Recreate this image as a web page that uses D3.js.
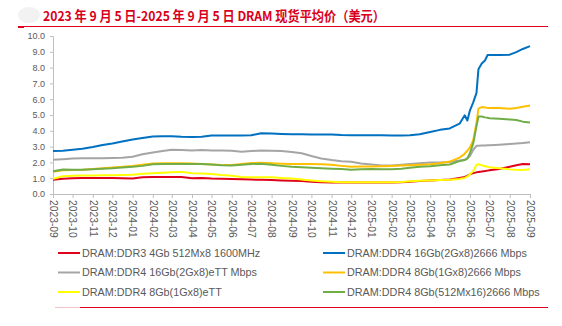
<!DOCTYPE html>
<html>
<head>
<meta charset="utf-8">
<script src="https://cdn.jsdelivr.net/npm/d3@7"></script>
<style>
    body { margin: 0; background: #fff; }
    svg { display: block; font-family: "Liberation Sans", Arial, sans-serif; }
</style>
</head>
<body>
<div id="chart"></div>
<script>
var dates = [
    '2023-09-05','2023-09-20','2023-10-05','2023-10-20','2023-11-05','2023-11-20','2023-12-05','2023-12-20',
    '2024-01-05','2024-01-20','2024-02-05','2024-02-20','2024-03-05','2024-03-20','2024-04-05','2024-04-20',
    '2024-05-05','2024-05-20','2024-06-05','2024-06-20','2024-07-05','2024-07-20','2024-08-05','2024-08-20',
    '2024-09-05','2024-09-20','2024-10-05','2024-10-20','2024-11-05','2024-11-20','2024-12-05','2024-12-20',
    '2025-01-05','2025-01-20','2025-02-05','2025-02-20','2025-03-05','2025-03-20','2025-04-05','2025-04-20',
    '2025-05-05','2025-05-20','2025-05-28','2025-06-01','2025-06-05','2025-06-10','2025-06-15','2025-06-18',
    '2025-06-23','2025-06-28','2025-07-02','2025-07-05','2025-07-20','2025-08-05','2025-08-15','2025-08-25',
    '2025-09-05'
];

var ddr3_4gb = [
    0.90,0.96,1.00,1.02,1.02,1.02,1.02,1.00,0.98,1.06,1.08,1.08,1.08,1.07,1.00,1.02,
    0.98,0.96,0.95,0.93,0.91,0.90,0.88,0.86,0.84,0.82,0.78,0.74,0.73,0.72,0.72,0.72,
    0.72,0.72,0.73,0.75,0.78,0.82,0.85,0.88,0.92,1.02,1.08,1.15,1.25,1.32,1.37,1.40,
    1.42,1.45,1.48,1.50,1.58,1.72,1.82,1.90,1.88
];
var ddr4_16gb_ett = [
    2.16,2.20,2.24,2.27,2.27,2.27,2.28,2.30,2.36,2.52,2.62,2.72,2.80,2.78,2.76,2.78,
    2.76,2.75,2.73,2.67,2.72,2.75,2.74,2.72,2.66,2.58,2.40,2.25,2.15,2.08,2.04,1.93,
    1.86,1.80,1.80,1.85,1.90,1.95,2.00,2.00,2.02,2.12,2.17,2.25,2.40,2.80,3.05,3.06,
    3.07,3.07,3.08,3.08,3.12,3.17,3.20,3.23,3.28
];
var ddr4_8gb_ett = [
    0.97,1.12,1.16,1.17,1.17,1.18,1.18,1.20,1.22,1.28,1.32,1.35,1.38,1.40,1.32,1.30,
    1.26,1.20,1.16,1.08,1.06,1.06,1.06,1.02,0.98,0.92,0.86,0.80,0.77,0.74,0.74,0.74,
    0.74,0.74,0.74,0.76,0.80,0.84,0.86,0.88,0.90,0.95,1.02,1.10,1.25,1.45,1.85,1.88,
    1.82,1.76,1.72,1.70,1.63,1.56,1.53,1.52,1.57
];
var ddr4_16gb_2666 = [
    2.72,2.74,2.80,2.86,2.97,3.10,3.20,3.32,3.45,3.55,3.64,3.66,3.66,3.62,3.60,3.62,
    3.70,3.70,3.70,3.70,3.72,3.85,3.83,3.80,3.78,3.78,3.77,3.77,3.76,3.73,3.72,3.72,
    3.72,3.72,3.71,3.71,3.72,3.78,3.92,4.06,4.15,4.45,4.98,4.65,5.30,5.80,6.40,7.90,
    8.26,8.45,8.80,8.80,8.80,8.82,8.98,9.18,9.36
];
var ddr4_8gb_2666 = [
    1.40,1.50,1.52,1.53,1.58,1.63,1.68,1.72,1.78,1.85,1.93,1.95,1.95,1.95,1.93,1.90,
    1.87,1.84,1.84,1.90,1.96,1.97,1.95,1.92,1.90,1.90,1.90,1.88,1.85,1.78,1.72,1.74,
    1.74,1.76,1.78,1.80,1.82,1.85,1.88,1.95,2.05,2.30,2.55,2.75,2.95,3.40,4.50,5.40,
    5.50,5.48,5.45,5.45,5.45,5.40,5.45,5.52,5.60
];
var ddr4_8gb_512 = [
    1.44,1.55,1.53,1.53,1.57,1.60,1.63,1.68,1.72,1.78,1.88,1.90,1.90,1.90,1.90,1.90,
    1.86,1.82,1.80,1.85,1.90,1.92,1.85,1.78,1.72,1.70,1.66,1.63,1.60,1.58,1.53,1.56,
    1.58,1.57,1.57,1.60,1.66,1.72,1.76,1.82,1.87,2.08,2.15,2.25,2.60,3.20,4.30,4.90,
    4.90,4.85,4.82,4.80,4.77,4.72,4.68,4.58,4.53
];

var seriesNames = [
    'DRAM:DDR3 4Gb 512Mx8 1600MHz',
    'DRAM:DDR4 16Gb(2Gx8)eTT Mbps',
    'DRAM:DDR4 8Gb(1Gx8)eTT',
    'DRAM:DDR4 16Gb(2Gx8)2666 Mbps',
    'DRAM:DDR4 8Gb(1Gx8)2666 Mbps',
    'DRAM:DDR4 8Gb(512Mx16)2666 Mbps'
];
var seriesValues = [ddr3_4gb, ddr4_16gb_ett, ddr4_8gb_ett, ddr4_16gb_2666, ddr4_8gb_2666, ddr4_8gb_512];
var seriesColors = ['#e0001b', '#a5a5a5', '#ffff00', '#0070c0', '#ffc000', '#70ad47'];
var yTicks = [0, 1, 2, 3, 4, 5, 6, 7, 8, 9, 10];
var titleText = '2023 年 9 月 5 日-2025 年 9 月 5 日 DRAM 现货平均价（美元）';

var W = 562, H = 326;
var margin = {left: 53, right: 32, top: 36, bottom: 132};
var parse = d3.timeParse('%Y-%m-%d');
var start = parse(dates[0]), end = parse(dates[dates.length - 1]);

var x = d3.scaleTime()
    .domain([start, end])
    .range([margin.left, W - margin.right]);

var y = d3.scaleLinear()
    .domain([0, 10])
    .range([H - margin.bottom, margin.top]);

var svg = d3.select('#chart')
    .append('svg')
    .attr('width', W)
    .attr('height', H);

// title
svg.append('text')
    .attr('x', 43)
    .attr('y', 21)
    .attr('fill', '#d9001b')
    .attr('font-family', '"Noto Sans CJK SC", sans-serif')
    .attr('font-weight', 'bold')
    .attr('font-size', 13.5)
    .attr('textLength', 342)
    .attr('lengthAdjust', 'spacingAndGlyphs')
    .text(titleText);

// faded logo area
svg.append('ellipse')
    .attr('cx', 29).attr('cy', 15).attr('rx', 11).attr('ry', 8)
    .attr('fill', '#f2f2f2');

// title rule
svg.append('line')
    .attr('x1', 18).attr('x2', 548)
    .attr('y1', 26.5).attr('y2', 26.5)
    .attr('stroke', '#e0001b')
    .attr('stroke-width', 1);
svg.append('rect')
    .attr('x', 18).attr('y', 26).attr('width', 6).attr('height', 2)
    .attr('fill', '#e0001b');

// y axis
var yAxis = svg.append('g')
    .attr('transform', 'translate(' + margin.left + ',0)')
    .call(d3.axisLeft(y).tickValues(yTicks).tickSize(3).tickFormat(d3.format('.1f')));
yAxis.select('.domain').attr('stroke', '#bfbfbf');
yAxis.selectAll('.tick line').attr('stroke', '#bfbfbf');
yAxis.selectAll('.tick text')
    .attr('fill', '#595959')
    .attr('font-size', 9)
    .attr('x', -8);

// x axis, ticks on the 5th of every month
var monthTicks = d3.range(25).map(function(i) { return d3.timeMonth.offset(start, i); });
var xAxis = svg.append('g')
    .attr('transform', 'translate(0,' + (H - margin.bottom) + ')')
    .call(d3.axisBottom(x).tickValues(monthTicks).tickSize(4).tickFormat(d3.timeFormat('%Y-%m')));
xAxis.select('.domain').attr('stroke', '#bfbfbf');
xAxis.selectAll('.tick line').attr('stroke', '#bfbfbf');
xAxis.selectAll('.tick text')
    .attr('fill', '#595959')
    .attr('font-size', 10.3)
    .attr('text-anchor', 'start')
    .attr('transform', 'rotate(90)')
    .attr('x', 6)
    .attr('y', 0)
    .attr('dy', '0.35em');

// lines
var line = d3.line()
    .x(function(d, i) { return x(parse(dates[i])); })
    .y(function(d) { return y(d); });

seriesValues.forEach(function(vals, k) {
    svg.append('path')
        .datum(vals)
        .attr('d', line)
        .attr('fill', 'none')
        .attr('stroke', seriesColors[k])
        .attr('stroke-width', 2)
        .attr('stroke-linejoin', 'round');
});

// legend
var legend = svg.selectAll('.legend')
    .data(seriesNames)
    .enter()
    .append('g')
    .attr('class', 'legend')
    .attr('transform', function(d, i) {
        var col = Math.floor(i / 3), row = i % 3;
        return 'translate(' + (col === 0 ? 58 : 323) + ',' + (253 + row * 19.5) + ')';
    });
legend.append('line')
    .attr('x1', 0).attr('x2', 22)
    .attr('stroke', function(d, i) { return seriesColors[i]; })
    .attr('stroke-width', 2);
legend.append('text')
    .attr('x', 24)
    .attr('dy', '0.35em')
    .attr('fill', '#595959')
    .attr('font-size', 10.8)
    .text(function(d) { return d; });

// bottom rule
svg.append('line')
    .attr('x1', 55).attr('x2', 80)
    .attr('y1', 307.5).attr('y2', 307.5)
    .attr('stroke', '#f3c5c9');
svg.append('line')
    .attr('x1', 80).attr('x2', 548)
    .attr('y1', 307.5).attr('y2', 307.5)
    .attr('stroke', '#e0001b');
</script>
</body>
</html>
